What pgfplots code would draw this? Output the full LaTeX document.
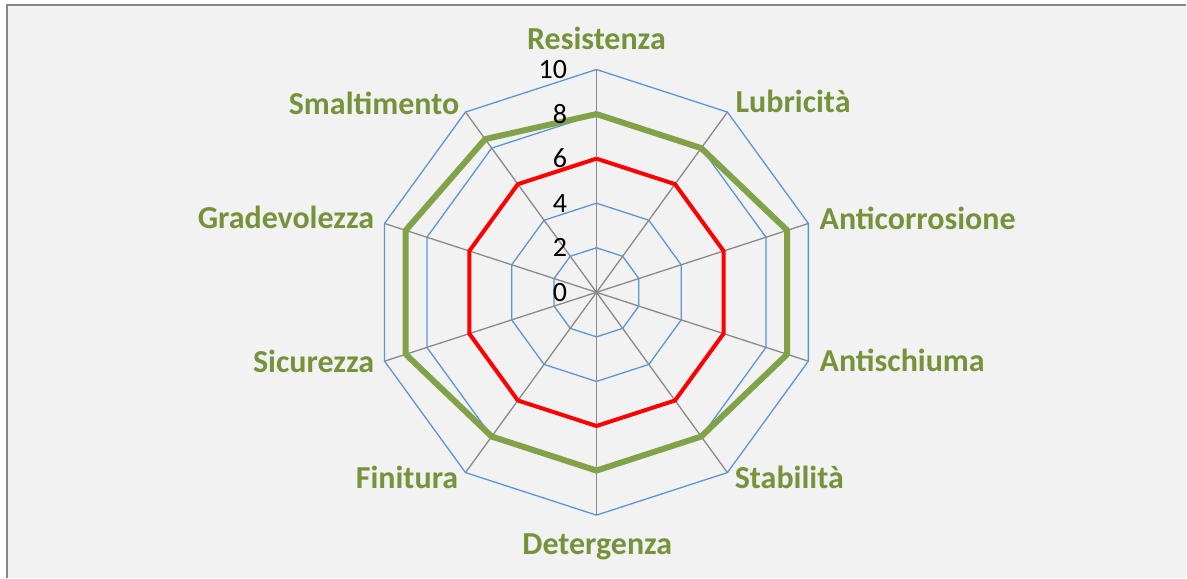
\documentclass[border=0pt]{standalone}
\usepackage{fontspec}
\setmainfont{Carlito}
\usepackage{pgfplots}
\pgfplotsset{compat=1.18}
\usepgfplotslibrary{polar}
\definecolor{gridblue}{HTML}{5B95DA}
\definecolor{spoke}{HTML}{8A8A8A}
\definecolor{sergreen}{HTML}{82A24A}
\definecolor{labgreen}{HTML}{76933C}
\definecolor{bg}{HTML}{F2F2F2}
\definecolor{frame}{HTML}{878787}
\begin{document}
\begin{tikzpicture}
\begin{axis}[
  scale only axis, width=593.5pt, height=289pt,
  xmin=-26.77, xmax=26.46, ymin=-12.80, ymax=13.12,
  hide axis, clip=false,
]
% background and frame
\fill[white] (rel axis cs:0,0) rectangle (rel axis cs:1,1);
\fill[bg] (rel axis cs:0.0051,0) rectangle (rel axis cs:1,0.9913);
\draw[frame, line width=1pt] (rel axis cs:0.0059,0) -- (rel axis cs:0.0059,0.9905) -- (rel axis cs:1,0.9905);
% grid decagons
\pgfplotsinvokeforeach{2,4,6,8,10}{
  \addplot[gridblue, line width=0.65pt, data cs=polar, mark=none] coordinates {(90,#1) (54,#1) (18,#1) (-18,#1) (-54,#1) (-90,#1) (-126,#1) (-162,#1) (-198,#1) (-234,#1) (90,#1)};
}
% spokes
\pgfplotsinvokeforeach{90,54,18,-18,-54,-90,-126,-162,-198,-234}{
  \addplot[spoke, line width=0.65pt, data cs=polar, mark=none] coordinates {(0,0) (#1,10)};
}
% series: angles for Resistenza, Lubricita, Anticorrosione, Antischiuma, Stabilita, Detergenza, Finitura, Sicurezza, Gradevolezza, Smaltimento
\addplot[red, line width=2pt, line join=round, data cs=polar, mark=none] coordinates {(90,6) (54,6) (18,6) (-18,6) (-54,6) (-90,6) (-126,6) (-162,6) (-198,6) (-234,6) (90,6)};
\addplot[sergreen, line width=3pt, line join=round, data cs=polar, mark=none] coordinates {(90,8) (54,8) (18,9) (-18,9) (-54,8) (-90,8) (-126,8) (-162,9) (-198,9) (-234,8.5) (90,8)};
% tick labels
\tikzset{tl/.style={anchor=east, inner sep=0pt, font=\fontsize{14}{16}\selectfont}}
\node[tl] at (axis cs:-1.3,0) {0};
\node[tl] at (axis cs:-1.3,2) {2};
\node[tl] at (axis cs:-1.3,4) {4};
\node[tl] at (axis cs:-1.3,6) {6};
\node[tl] at (axis cs:-1.3,8) {8};
\node[tl] at (axis cs:-1.3,10) {10};
% category labels
\tikzset{lab/.style={inner sep=0pt, text=labgreen, font=\fontsize{16}{19}\selectfont\bfseries}}
\node[lab, anchor=base] at (axis cs:0,10.92) {Resistenza};
\node[lab, anchor=base west] at (axis cs:6.23,8.05) {Lubricità};
\node[lab, anchor=base west] at (axis cs:10.0,2.80) {Anticorrosione};
\node[lab, anchor=base west] at (axis cs:10.0,-3.57) {Antischiuma};
\node[lab, anchor=base west] at (axis cs:6.19,-8.81) {Stabilità};
\node[lab, anchor=base] at (axis cs:0.04,-11.77) {Detergenza};
\node[lab, anchor=base east] at (axis cs:-6.19,-8.81) {Finitura};
\node[lab, anchor=base east] at (axis cs:-9.96,-3.61) {Sicurezza};
\node[lab, anchor=base east] at (axis cs:-9.96,2.85) {Gradevolezza};
\node[lab, anchor=base east] at (axis cs:-6.14,8.0) {Smaltimento};
\end{axis}
\end{tikzpicture}
\end{document}
